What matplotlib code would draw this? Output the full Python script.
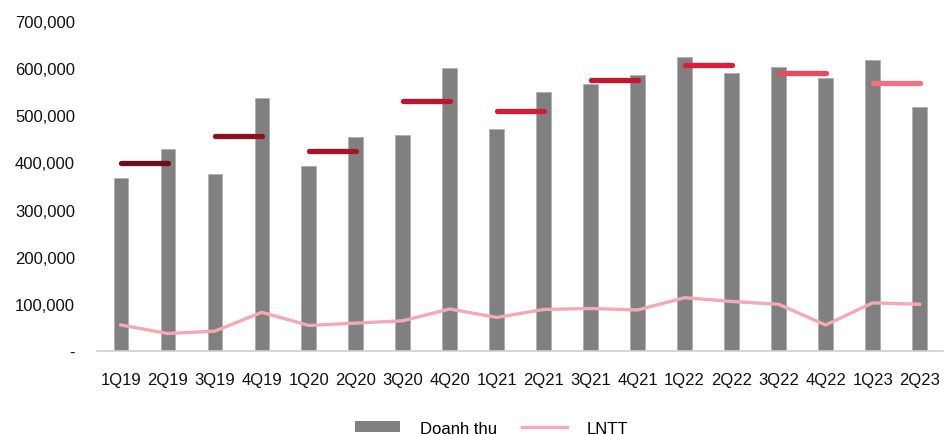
import matplotlib
matplotlib.use("Agg")
import matplotlib.pyplot as plt
from matplotlib.patches import Patch
from matplotlib.lines import Line2D
import numpy as np

plt.rcParams["font.family"] = ["Liberation Sans", "DejaVu Sans"]

# ------------------------------------------------------------
# Data
# ------------------------------------------------------------
quarters = ["1Q19", "2Q19", "3Q19", "4Q19", "1Q20", "2Q20", "3Q20", "4Q20",
            "1Q21", "2Q21", "3Q21", "4Q21", "1Q22", "2Q22", "3Q22", "4Q22",
            "1Q23", "2Q23"]
doanh_thu = [367000, 428000, 375000, 537000, 392000, 455000, 458000, 601000,
             471000, 549000, 567000, 585000, 623000, 589000, 603000, 579000,
             618000, 517000]
lntt = [55000, 37000, 42000, 82000, 54000, 59000, 64000, 89000,
        71000, 88000, 90000, 87000, 113000, 105000, 99000, 55000,
        102000, 99000]
# half-year markers (start index of each pair, level)
half_start = [0, 2, 4, 6, 8, 10, 12, 14, 16]
half_level = [398000, 457000, 424000, 530000, 510000, 576000, 607000, 591000, 568000]
half_colors = ["#6e0e1c", "#8c1022", "#a8132b", "#bd1530", "#d41a35",
               "#c5152f", "#e01a3b", "#e84a60", "#f07283"]

ytick_vals = [0, 100000, 200000, 300000, 400000, 500000, 600000, 700000]
ytick_labels = ["-", "100,000", "200,000", "300,000", "400,000", "500,000",
                "600,000", "700,000"]

bar_color = "#808080"
line_color = "#f4aab5"

fig = plt.figure(figsize=(9.45, 4.35), dpi=100)
ax = fig.add_axes([0.103, 0.191, 0.895, 0.758])

x = np.arange(len(quarters))
ax.bar(x, doanh_thu, width=0.31, color=bar_color, edgecolor="#b0b0b0",
       linewidth=0.6, zorder=2)
ax.plot(x, lntt, color=line_color, lw=2.4, zorder=3)

for s, lvl, c in zip(half_start, half_level, half_colors):
    ax.plot([s, s + 1], [lvl, lvl], color=c, lw=3.8,
            solid_capstyle="round", zorder=4)

ax.set_xlim(-0.5, len(quarters) - 0.5)
ax.set_ylim(0, 700000)
ax.set_yticks(ytick_vals)
ax.set_yticklabels(ytick_labels)
ax.set_xticks(x)
ax.set_xticklabels(quarters)
ax.tick_params(axis="both", length=0, labelsize=12, colors="#111111")
ax.tick_params(axis="y", pad=16)
ax.tick_params(axis="x", pad=15)

for side in ["top", "right", "left"]:
    ax.spines[side].set_visible(False)
ax.spines["bottom"].set_color("#d0d0d0")
ax.spines["bottom"].set_linewidth(1.2)

handles = [Patch(facecolor=bar_color, edgecolor="none"),
           Line2D([0], [0], color=line_color, lw=2.4)]
fig.legend(handles, ["Doanh thu", "LNTT"], loc="lower center",
           bbox_to_anchor=(0.52, -0.038), ncol=2, frameon=False,
           fontsize=12, handlelength=2.7, handleheight=0.6,
           handletextpad=1.2, columnspacing=1.5)

fig.savefig("out.png", dpi=100)
